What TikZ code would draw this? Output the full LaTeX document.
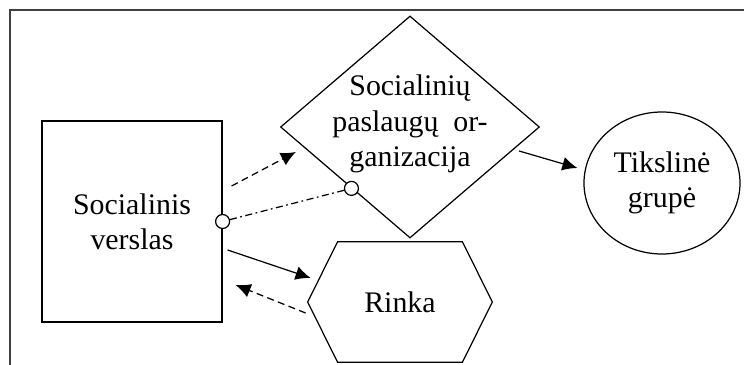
\documentclass[tikz,border=0pt]{standalone}
\usepackage{fontspec}
\setmainfont{Liberation Serif}
\usetikzlibrary{%
    shapes.geometric,%
    arrows.meta,%
    calc%
}

\tikzset{
	box/.style={draw, line width=0.7pt, align=center, inner sep=0pt},
	arr/.style={-{Latex[length=3mm,width=2.8mm]}, line width=0.7pt},
	dsh/.style={dash pattern=on 4pt off 2.5pt},
	dshdot/.style={dash pattern=on 4pt off 2pt on 1pt off 2pt},
	port/.style={draw, circle, fill=white, line width=0.7pt, minimum size=0.28cm, inner sep=0pt}
}

\begin{document}
\begin{tikzpicture}[font=\fontsize{17}{20}\selectfont]

				\useasboundingbox (0,0) rectangle (14.88,7.3);
				\draw[black!75, line width=1.2pt] (0.2,0) -- (0.2,7.1) -- (14.88,7.1);

				\node[box, minimum width=3.6cm, minimum height=4.02cm] (sv) at (2.64,2.87) {Socialinis\\verslas};
				\node[box, diamond, minimum width=5.18cm, minimum height=4.44cm] (spo) at (8.2,4.76) {};
				\node[align=center] (spotxt) at (8.2,4.82) {Socialinių\\paslaugų\enspace or-\\ganizacija};
				\node[box, ellipse, minimum width=3.12cm, minimum height=2.84cm] (tg) at (13.24,3.64) {Tikslinė\\grupė};

				% hexagon round the text
				\node[minimum width=3.68cm, minimum height=2.4cm] (rinka) at (8,1.26) {Rinka};
				\draw[line width=0.7pt] (rinka.west) -- ([xshift=0.6cm]rinka.north west) -- ([xshift=-0.6cm]rinka.north east) -- (rinka.east) -- ([xshift=-0.6cm]rinka.south east) -- ([xshift=0.6cm]rinka.south west) -- cycle;

				\node[port] (p1) at (sv.east) {};
				\node[port] (p2) at ($(spo.west)!0.55!(spo.south)$) {};
				\draw[line width=0.7pt, dshdot] (p1) -- (p2);

				\draw[arr, dsh] ([shift={(0.18,0.71)}]sv.east) -- ([shift={(0.32,-0.5)}]spo.west);
				\draw[arr] ([shift={(-0.42,-0.48)}]spo.east) -- ([shift={(-0.12,0.3)}]tg.west);
				\draw[arr] ([shift={(0.1,-0.57)}]sv.east) -- ([shift={(0.06,0.48)}]rinka.west);
				\draw[arr, dsh] ([shift={(-0.04,-0.22)}]rinka.west) -- ([shift={(0.26,-1.27)}]sv.east);
			\end{tikzpicture}
\end{document}
